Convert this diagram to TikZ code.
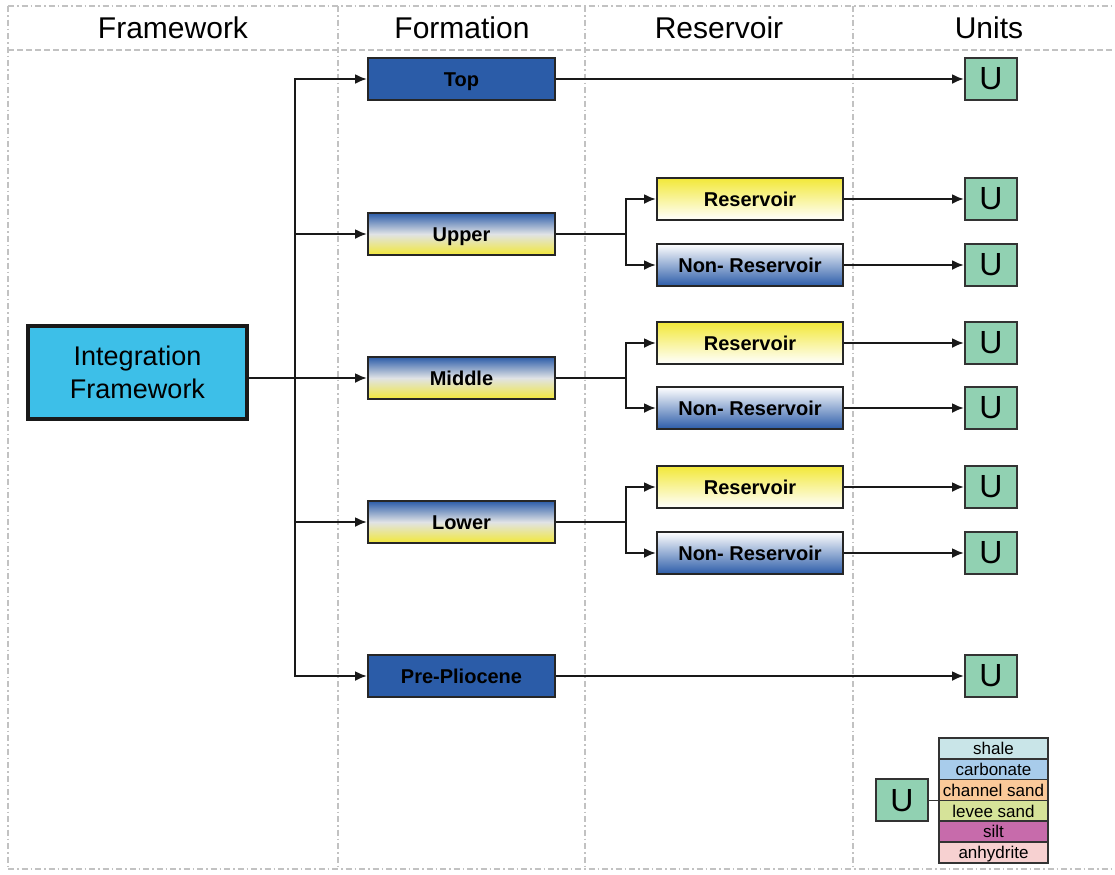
\documentclass[tikz,border=0pt]{standalone}
\usepackage{fontspec}
\setmainfont{Liberation Sans}
\usetikzlibrary{arrows.meta}

\newlength{\du}
\setlength{\du}{0.5pt}

\definecolor{gridcolor}{rgb}{0.760000, 0.760000, 0.760000}
\definecolor{formblue}{rgb}{0.170000, 0.360000, 0.660000}
\definecolor{formyellow}{rgb}{0.950000, 0.910000, 0.220000}
\definecolor{formmiddle}{rgb}{0.880000, 0.890000, 0.900000}
\definecolor{framecyan}{rgb}{0.240000, 0.750000, 0.910000}
\definecolor{unitgreen}{rgb}{0.570000, 0.820000, 0.700000}
\definecolor{shalecolor}{rgb}{0.790000, 0.900000, 0.910000}
\definecolor{carbcolor}{rgb}{0.660000, 0.800000, 0.920000}
\definecolor{chancolor}{rgb}{0.980000, 0.790000, 0.600000}
\definecolor{leveecolor}{rgb}{0.840000, 0.890000, 0.600000}
\definecolor{siltcolor}{rgb}{0.780000, 0.420000, 0.670000}
\definecolor{anhycolor}{rgb}{0.970000, 0.820000, 0.820000}

\tikzset{
  gridline/.style={draw=gridcolor, line width=1.5\du, dash pattern=on 6\du off 3\du on 1.5\du off 3\du},
  headline/.style={draw=gridcolor, line width=1.5\du, dash pattern=on 6\du off 3\du},
  headtext/.style={font=\fontsize{15}{18}\selectfont},
  formbox/.style={draw=black!85, line width=2\du, minimum width=187\du, minimum height=42\du,
    inner sep=0pt, text height=0.72em, text depth=0pt, font=\bfseries\fontsize{10}{12}\selectfont},
  solidbox/.style={formbox, fill=formblue},
  gradbox/.style={formbox, top color=formblue, bottom color=formyellow, middle color=formmiddle},
  resbox/.style={formbox, minimum width=186\du, top color=formyellow, bottom color=white},
  nonresbox/.style={formbox, minimum width=186\du, top color=white, bottom color=formblue},
  unitbox/.style={draw=black!80, line width=2\du, fill=unitgreen, minimum width=52\du,
    minimum height=42\du, inner sep=0pt, font=\fontsize{16}{18}\selectfont},
  lithbox/.style={draw=black!80, line width=1.5\du, minimum width=109\du, minimum height=20.8\du,
    inner sep=0pt, text height=0.72em, text depth=0.1em, font=\fontsize{8.5}{10}\selectfont},
  conn/.style={draw=black!90, line width=2.2\du},
  arr/.style={conn, -{Latex[length=6pt, width=5pt]}}
}

\begin{document}
\begin{tikzpicture}
\pgftransformxscale{1.000000}
\pgftransformyscale{-1.000000}
\useasboundingbox (0.000000\du,0.000000\du) rectangle (1115.000000\du,874.000000\du);
% grid of the table
\draw[gridline] (8.000000\du,6.000000\du)--(1115.000000\du,6.000000\du);
\draw[gridline] (8.000000\du,869.000000\du)--(1115.000000\du,869.000000\du);
\draw[gridline] (8.000000\du,6.000000\du)--(8.000000\du,869.000000\du);
\draw[gridline] (338.000000\du,6.000000\du)--(338.000000\du,869.000000\du);
\draw[gridline] (585.000000\du,6.000000\du)--(585.000000\du,869.000000\du);
\draw[gridline] (853.000000\du,6.000000\du)--(853.000000\du,869.000000\du);
\draw[headline] (8.000000\du,50.000000\du)--(1115.000000\du,50.000000\du);
% column heads
\node[headtext] (hframe) at (173.000000\du,28.000000\du){Framework};
\node[headtext] (hform) at (462.000000\du,28.000000\du){Formation};
\node[headtext] (hres) at (719.000000\du,28.000000\du){Reservoir};
\node[headtext] (hunits) at (989.000000\du,28.000000\du){Units};
% framework
\node[draw=black!90, line width=4.5\du, fill=framecyan, minimum width=219\du, minimum height=93\du,
  inner sep=0pt, align=center, font=\fontsize{13.5}{16.5}\selectfont]
  (frame) at (137.500000\du,372.500000\du){Integration\\Framework};
% formations
\node[solidbox] (top) at (461.500000\du,79.000000\du){Top};
\node[gradbox] (upper) at (461.500000\du,234.000000\du){Upper};
\node[gradbox] (middle) at (461.500000\du,378.000000\du){Middle};
\node[gradbox] (lower) at (461.500000\du,522.000000\du){Lower};
\node[solidbox] (prepl) at (461.500000\du,676.000000\du){Pre-Pliocene};
% reservoirs
\node[resbox] (upres) at (750.000000\du,199.000000\du){Reservoir};
\node[nonresbox] (upnon) at (750.000000\du,265.000000\du){Non- Reservoir};
\node[resbox] (midres) at (750.000000\du,343.000000\du){Reservoir};
\node[nonresbox] (midnon) at (750.000000\du,408.000000\du){Non- Reservoir};
\node[resbox] (lowres) at (750.000000\du,487.000000\du){Reservoir};
\node[nonresbox] (lownon) at (750.000000\du,553.000000\du){Non- Reservoir};
% units
\node[unitbox] (utop) at (991.000000\du,79.000000\du){U};
\node[unitbox] (uupres) at (991.000000\du,199.000000\du){U};
\node[unitbox] (uupnon) at (991.000000\du,265.000000\du){U};
\node[unitbox] (umidres) at (991.000000\du,343.000000\du){U};
\node[unitbox] (umidnon) at (991.000000\du,408.000000\du){U};
\node[unitbox] (ulowres) at (991.000000\du,487.000000\du){U};
\node[unitbox] (ulownon) at (991.000000\du,553.000000\du){U};
\node[unitbox] (uprepl) at (991.000000\du,676.000000\du){U};
% framework to formations
\coordinate (trunk) at (295.000000\du,378.000000\du);
\draw[arr] (frame.east |- middle.west)--(middle.west);
\draw[arr] (trunk) |- (top.west);
\draw[arr] (trunk) |- (upper.west);
\draw[arr] (trunk) |- (lower.west);
\draw[arr] (trunk) |- (prepl.west);
% formations to reservoirs
\coordinate (upsplit) at (626.000000\du,234.000000\du);
\coordinate (midsplit) at (626.000000\du,378.000000\du);
\coordinate (lowsplit) at (626.000000\du,522.000000\du);
\draw[conn] (upper.east)--(upsplit);
\draw[arr] (upsplit) |- (upres.west);
\draw[arr] (upsplit) |- (upnon.west);
\draw[conn] (middle.east)--(midsplit);
\draw[arr] (midsplit) |- (midres.west);
\draw[arr] (midsplit) |- (midnon.west);
\draw[conn] (lower.east)--(lowsplit);
\draw[arr] (lowsplit) |- (lowres.west);
\draw[arr] (lowsplit) |- (lownon.west);
% to units
\draw[arr] (top.east)--(utop.west);
\draw[arr] (upres.east)--(uupres.west);
\draw[arr] (upnon.east)--(uupnon.west);
\draw[arr] (midres.east)--(umidres.west);
\draw[arr] (midnon.east)--(umidnon.west);
\draw[arr] (lowres.east)--(ulowres.west);
\draw[arr] (lownon.east)--(ulownon.west);
\draw[arr] (prepl.east)--(uprepl.west);
% legend
\node[lithbox, fill=shalecolor] (shale) at (993.500000\du,748.400000\du){shale};
\node[lithbox, fill=carbcolor] (carb) at (993.500000\du,769.200000\du){carbonate};
\node[lithbox, fill=chancolor] (chan) at (993.500000\du,790.000000\du){channel sand};
\node[lithbox, fill=leveecolor] (levee) at (993.500000\du,810.800000\du){levee sand};
\node[lithbox, fill=siltcolor] (silt) at (993.500000\du,831.600000\du){silt};
\node[lithbox, fill=anhycolor] (anhy) at (993.500000\du,852.400000\du){anhydrite};
\node[unitbox] (ulegend) at (902.000000\du,800.400000\du){U};
\draw[draw=black!80, line width=1.5\du] (ulegend.east)--(ulegend.east -| chan.west);
\end{tikzpicture}
\end{document}
